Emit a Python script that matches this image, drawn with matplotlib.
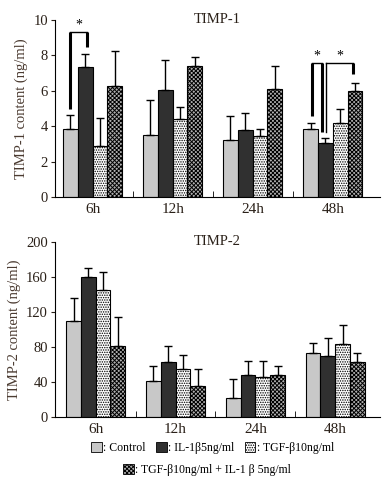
import numpy as np
import matplotlib
matplotlib.use('Agg')
import matplotlib.pyplot as plt
from matplotlib.patches import Patch

plt.rcParams['font.family'] = ['Liberation Serif', 'DejaVu Serif']
plt.rcParams['hatch.linewidth'] = 0.7

times = ['6h', '12h', '24h', '48h']
groups = [': Control', ': IL-1β5ng/ml', ': TGF-β10ng/ml',
          ': TGF-β10ng/ml + IL-1 β 5ng/ml']

# TIMP-1 (ng/ml): mean and upper error
timp1_control = [3.87, 3.49, 3.21, 3.83]
timp1_il = [7.36, 6.04, 3.77, 3.08]
timp1_tgf = [2.87, 4.40, 3.43, 4.19]
timp1_combo = [6.26, 7.40, 6.09, 5.98]
timp1_err_control = [0.79, 1.98, 1.36, 0.38]
timp1_err_il = [0.70, 1.68, 0.98, 0.24]
timp1_err_tgf = [1.60, 0.66, 0.40, 0.77]
timp1_err_combo = [1.99, 0.49, 1.29, 0.49]

# TIMP-2 (ng/ml)
timp2_control = [109.7, 40.6, 21.6, 72.9]
timp2_il = [159.4, 62.6, 48.2, 69.8]
timp2_tgf = [145.0, 55.0, 45.5, 83.1]
timp2_combo = [80.8, 35.3, 48.2, 63.0]
timp2_err_control = [25.8, 17.8, 21.7, 11.3]
timp2_err_il = [10.2, 18.2, 15.6, 20.5]
timp2_err_tgf = [20.0, 15.6, 18.3, 21.6]
timp2_err_combo = [33.8, 19.3, 9.8, 9.9]

colors = ['#c8c8c8', '#303030', 'white', '#b0b0b0']
hatches = [None, None, '.......', 'xxxxxxxx']
txt = '#2a2018'
w = 0.185
x = np.arange(len(times))
offs = (np.arange(4) - 1.5) * w


def panel(ax, means, errs, title, ylabel, ylim, yticks, xlim):
    for i in range(4):
        ax.bar(x + offs[i], means[i], w, color=colors[i], hatch=hatches[i],
               edgecolor='black', linewidth=0.8, zorder=2)
        ax.errorbar(x + offs[i], means[i], yerr=[np.zeros(4), errs[i]],
                    fmt='none', ecolor='black', elinewidth=1, capsize=3,
                    capthick=1, zorder=3)
    ax.set_xlim(*xlim)
    ax.set_ylim(*ylim)
    ax.set_yticks(yticks)
    ax.set_xticks(x)
    ax.set_xticklabels(times, fontsize=11)
    ax.tick_params(axis='x', length=0, pad=4, colors=txt)
    ax.set_xticks(x[:-1] + 0.5, minor=True)
    ax.tick_params(axis='x', which='minor', direction='in', length=4)
    ax.tick_params(axis='y', direction='out', length=3, labelsize=10.5,
                   colors=txt, pad=2)
    for s in ['top', 'right']:
        ax.spines[s].set_visible(False)
    ax.set_ylabel(ylabel, fontsize=10.5, color='#4a3a30', labelpad=4)
    ax.text(0.5, 1.0, title, transform=ax.transAxes, ha='center',
            va='center', fontsize=10.5, color=txt)


fig = plt.figure(figsize=(3.83, 4.83), dpi=100)
ax1 = fig.add_axes([0.1436, 0.592, 0.8484, 0.3666])
ax2 = fig.add_axes([0.1436, 0.1366, 0.8484, 0.363])

panel(ax1, [timp1_control, timp1_il, timp1_tgf, timp1_combo],
      [timp1_err_control, timp1_err_il, timp1_err_tgf, timp1_err_combo],
      'TIMP-1', 'TIMP-1 content (ng/ml)', (0, 10), range(0, 11, 2),
      (-0.47, 3.59))
panel(ax2, [timp2_control, timp2_il, timp2_tgf, timp2_combo],
      [timp2_err_control, timp2_err_il, timp2_err_tgf, timp2_err_combo],
      'TIMP-2', 'TIMP-2 content (ng/ml)', (0, 200), range(0, 201, 40),
      (-0.51, 3.56))

# significance brackets (TIMP-1): thick legs, thin bar
thick = dict(color='black', lw=2.2, solid_capstyle='butt', zorder=4)
thin = dict(color='black', lw=1, zorder=4)
brackets = [(-0.28, -0.07, 9.35, 5.0, 8.45), (2.74, 2.86, 7.55, 4.6, 3.65),
            (2.92, 3.25, 7.55, 3.65, 6.95)]
thick_legs = [(True, True), (True, True), (False, True)]
for (xa, xb, top, ya, yb), (ta, tb) in zip(brackets, thick_legs):
    ax1.plot([xa, xb], [top, top], **thin)
    ax1.plot([xa, xa], [ya, top], **(thick if ta else thin))
    ax1.plot([xb, xb], [yb, top], **(thick if tb else thin))
    ax1.text((xa + xb) / 2, top + 0.02, '*', ha='center', va='bottom',
             fontsize=10)

handles = [Patch(facecolor=colors[i], hatch=hatches[i], edgecolor='black',
                 linewidth=0.6) for i in range(4)]
lg = dict(frameon=False, fontsize=8.5, handlelength=0.9, handleheight=0.9,
          handletextpad=0.1, columnspacing=0.9, borderpad=0)
fig.legend(handles[:3], groups[:3], ncol=3, loc='center',
           bbox_to_anchor=(0.555, 0.072), **lg)
fig.legend(handles[3:], groups[3:], ncol=1, loc='center',
           bbox_to_anchor=(0.54, 0.027), **lg)

fig.savefig('out.png', dpi=100)
